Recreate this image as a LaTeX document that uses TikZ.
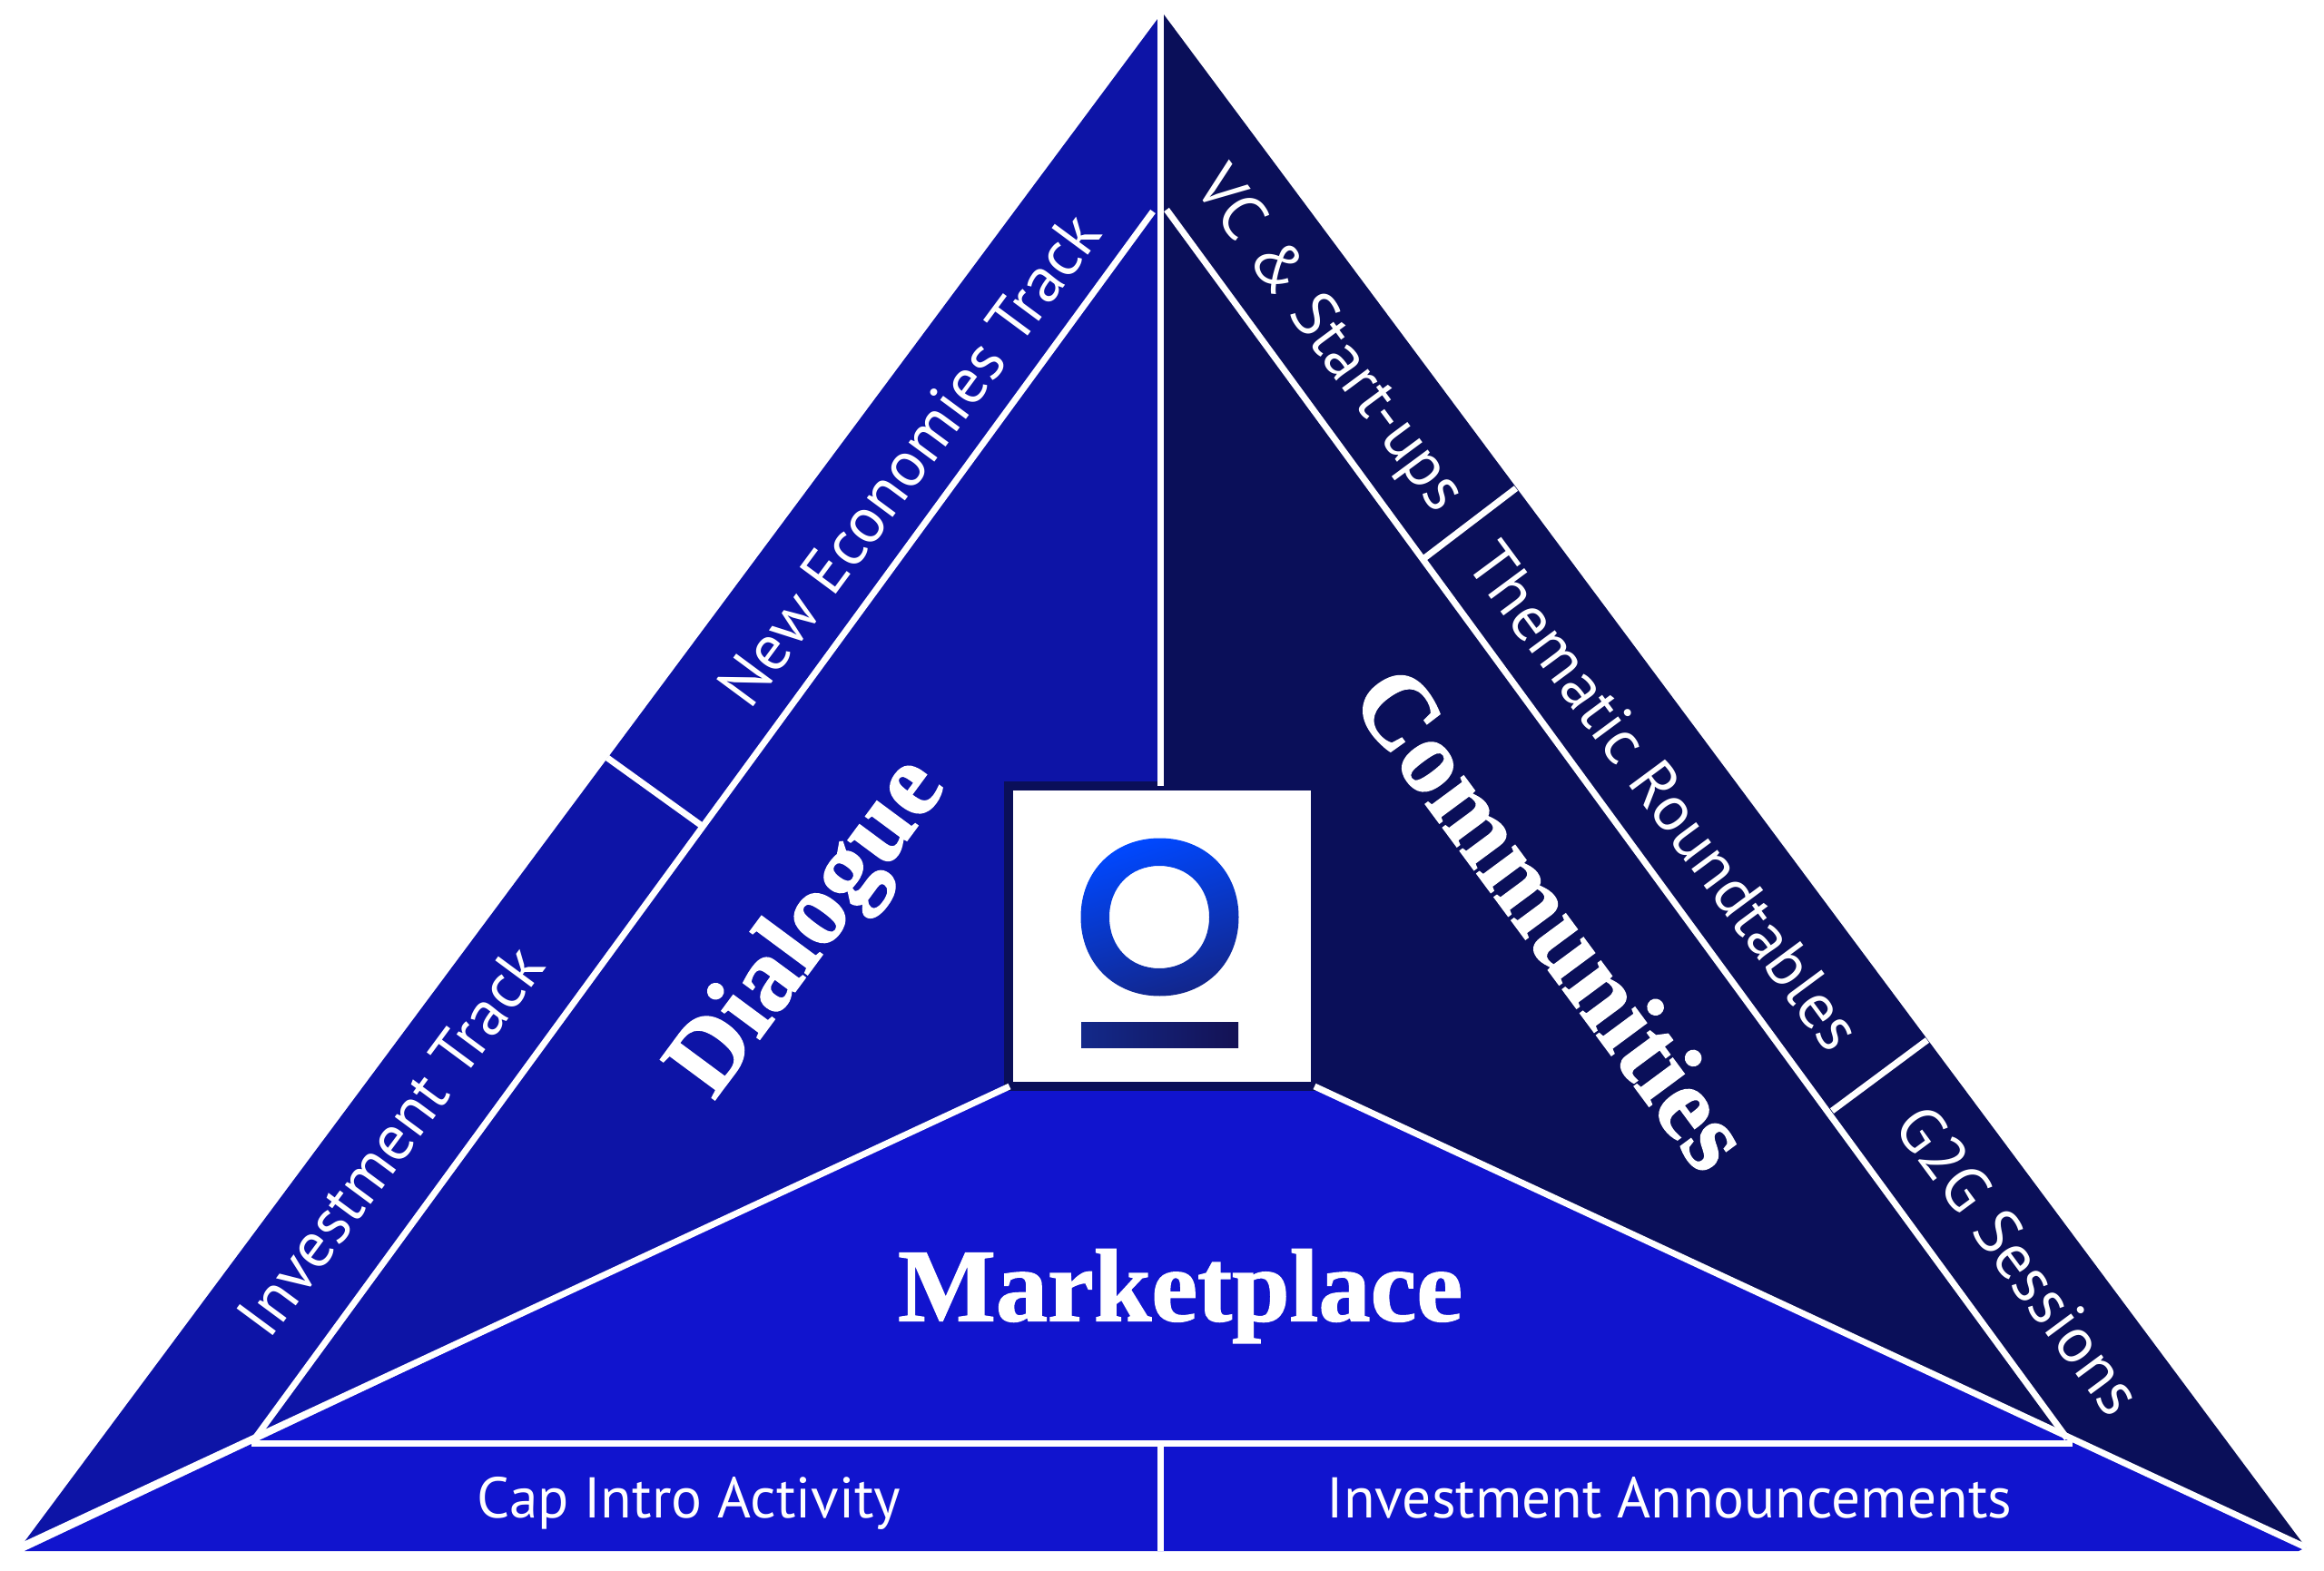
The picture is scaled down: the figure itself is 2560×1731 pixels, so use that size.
\documentclass[tikz,border=0pt]{standalone}
\usepackage{fontspec}
\setmainfont{PT Sans}
\newfontfamily\headfont[FakeBold=1.2]{Liberation Serif}
\newcommand{\squircle}[4]{({#1},{#2-#4}) .. controls ({#1+0.58*#3},{#2-#4}) and ({#1+#3},{#2-0.58*#4}) .. ({#1+#3},{#2}) .. controls ({#1+#3},{#2+0.58*#4}) and ({#1+0.58*#3},{#2+#4}) .. ({#1},{#2+#4}) .. controls ({#1-0.58*#3},{#2+#4}) and ({#1-#3},{#2+0.58*#4}) .. ({#1-#3},{#2}) .. controls ({#1-#3},{#2-0.58*#4}) and ({#1-0.58*#3},{#2-#4}) .. cycle}
\tikzset{
  rule/.style = {draw = white, line width = 0.07cm},
  track/.style = {text = white, font = \fontsize{20.1}{22}\selectfont, inner sep = 0pt},
  basetrack/.style = {text = white, font = \fontsize{18}{20}\selectfont, inner sep = 0pt, anchor = base},
  pillar/.style = {text = white, font = \fontsize{32.5}{36}\headfont\bfseries, inner sep = 0pt}
}
\begin{document}
\begin{tikzpicture}[x = 0.01cm, y = -0.01cm]
\definecolor{dialogueCol}{HTML}{0D14A6}
\definecolor{communityCol}{HTML}{0A0F59}
\definecolor{marketCol}{HTML}{1114CE}
\useasboundingbox (0, 0) rectangle (2560, 1731);

% corners of the big triangle
\coordinate (apexL) at (1275, 21);
\coordinate (apexR) at (1282, 16);
\coordinate (apexM) at (1278.5, 16);
\coordinate (cornerL) at (23, 1704);
\coordinate (cornerR) at (2540, 1705);
\coordinate (baseL) at (27, 1709);
\coordinate (baseR) at (2532, 1709);
\coordinate (baseM) at (1278.5, 1709);
\coordinate (innerL) at (280, 1586);
\coordinate (innerR) at (2277, 1585);
\coordinate (innerTopL) at (1270, 233);
\coordinate (innerTopR) at (1285, 231);
\coordinate (boxL) at (1112, 1197);
\coordinate (boxR) at (1448, 1197);
\coordinate (boxT) at (1278.5, 866);
\coordinate (midL) at (277, 1590);
\coordinate (midR) at (2283, 1590);
\coordinate (midM) at (1278.5, 1590);

% the three faces
\fill[dialogueCol] (apexL) -- (cornerL) -- (boxL) -- (1278.5, 1197) -- (1275, 21) -- cycle;
\fill[communityCol] (apexR) -- (cornerR) -- (boxR) -- (1278.5, 1197) -- (1282, 16) -- cycle;
\fill[marketCol] (baseL) -- (boxL) -- (boxR) -- (cornerR) -- (baseR) -- cycle;

% logo box
\fill[communityCol] (1106, 861) rectangle (1454, 1202);
\fill[white] (1116, 871) rectangle (1444, 1192);
\shade[even odd rule, shading = axis, top color = {rgb,255:red,0;green,72;blue,255}, bottom color = {rgb,255:red,18;green,38;blue,140}, shading angle = 18]
  \squircle{1277.5}{1010.5}{87}{87} \squircle{1277}{1010.5}{55}{56.5};
\shade[left color = {rgb,255:red,19;green,41;blue,138}, right color = {rgb,255:red,20;green,18;blue,84}] (1191, 1126) rectangle (1364, 1154);

% white rules
\draw[rule] (apexM) -- (boxT);
\draw[rule] (cornerL) -- (boxL);
\draw[rule] (cornerR) -- (boxR);
\draw[rule] (innerTopL) -- (innerL);
\draw[rule] (innerTopR) -- (innerR);
\draw[rule] (midL) -- (midR);
\draw[rule] (midM) -- (baseM);
\coordinate (tickLa) at (669, 835);
\coordinate (tickLb) at (776, 912);
\coordinate (tickRa) at (1670, 538);
\coordinate (tickRb) at (1569, 615);
\coordinate (tickSa) at (2123, 1146);
\coordinate (tickSb) at (2018, 1224);
\draw[rule] (tickLa) -- (tickLb);
\draw[rule] (tickRa) -- (tickRb);
\draw[rule] (tickSa) -- (tickSb);

% side labels
\node[track, rotate = 53.5] (newEconomies) at (1001, 506) {New Economies Track};
\node[track, rotate = 53.5] (investTrack) at (430, 1257) {Investment Track};
\node[track, rotate = -53.5] (vcStartups) at (1463, 376) {VC \& Start-ups};
\node[track, rotate = -53.5] (roundtables) at (1834, 877) {Thematic Roundtables};
\node[track, rotate = -53.5] (g2gSessions) at (2224, 1388) {G2G Sessions};
\node[basetrack] (capIntro) at (759, 1672) {Cap Intro Activity};
\node[basetrack] (announcements) at (1839, 1672) {Investment Announcements};

% big labels
\node[pillar, rotate = 53.5] (dialogue) at (893, 1024) {Dialogue};
\node[pillar, rotate = -53.5] (communities) at (1711, 1011) {Communities};
\node[pillar] (marketplace) at (1300, 1428) {Marketplace};
\end{tikzpicture}
\end{document}
